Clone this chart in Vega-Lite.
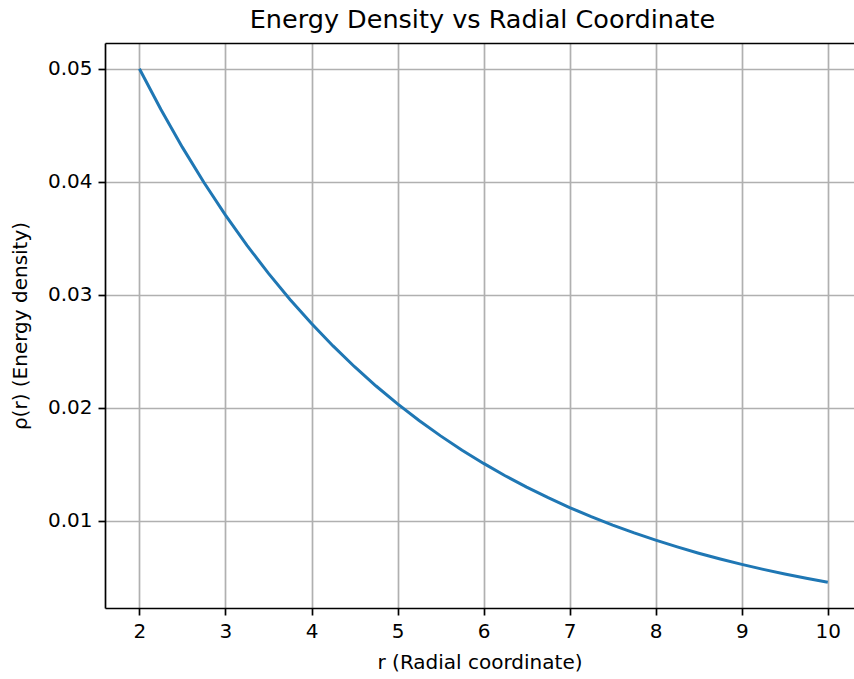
{
  "$schema": "https://vega.github.io/schema/vega-lite/v6.json",
  "autosize": {"type": "none"},
  "padding": {"left": 105, "top": 43, "right": 0, "bottom": 71},
  "width": 749,
  "height": 565,
  "background": "white",
  "title": {"text": "Energy Density vs Radial Coordinate", "font": "DejaVu Sans", "fontSize": 25.5, "fontWeight": "normal", "color": "black", "anchor": "middle", "baseline": "alphabetic", "offset": 14, "dx": 3, "dy": 24},
  "config": {
    "view": {"stroke": null},
    "axis": {"labelFont": "DejaVu Sans", "titleFont": "DejaVu Sans", "labelFontSize": 20, "titleFontSize": 20, "titleFontWeight": "normal", "labelColor": "black", "titleColor": "black", "domainColor": "black", "domainWidth": 1.7, "tickColor": "black", "tickWidth": 1.7, "tickSize": 7, "labelPadding": 6, "gridColor": "#b0b0b0", "gridWidth": 1.7, "gridOpacity": 1}
  },
  "data": {"values": [
    {"r": 2.0, "rho": 0.05},
    {"r": 2.25, "rho": 0.046387},
    {"r": 2.5, "rho": 0.043035},
    {"r": 2.75, "rho": 0.039926},
    {"r": 3.0, "rho": 0.037041},
    {"r": 3.25, "rho": 0.034364},
    {"r": 3.5, "rho": 0.031881},
    {"r": 3.75, "rho": 0.029578},
    {"r": 4.0, "rho": 0.027441},
    {"r": 4.25, "rho": 0.025458},
    {"r": 4.5, "rho": 0.023618},
    {"r": 4.75, "rho": 0.021912},
    {"r": 5.0, "rho": 0.020328},
    {"r": 5.25, "rho": 0.01886},
    {"r": 5.5, "rho": 0.017497},
    {"r": 5.75, "rho": 0.016233},
    {"r": 6.0, "rho": 0.01506},
    {"r": 6.25, "rho": 0.013972},
    {"r": 6.5, "rho": 0.012962},
    {"r": 6.75, "rho": 0.012025},
    {"r": 7.0, "rho": 0.011157},
    {"r": 7.25, "rho": 0.01035},
    {"r": 7.5, "rho": 0.009603},
    {"r": 7.75, "rho": 0.008909},
    {"r": 8.0, "rho": 0.008265},
    {"r": 8.25, "rho": 0.007668},
    {"r": 8.5, "rho": 0.007114},
    {"r": 8.75, "rho": 0.0066},
    {"r": 9.0, "rho": 0.006123},
    {"r": 9.25, "rho": 0.00568},
    {"r": 9.5, "rho": 0.00527},
    {"r": 9.75, "rho": 0.004889},
    {"r": 10.0, "rho": 0.004536}
  ]},
  "layer": [
    {
      "mark": {"type": "line", "color": "#1f77b4", "strokeWidth": 3, "clip": true},
      "encoding": {
        "x": {"field": "r", "type": "quantitative", "scale": {"domain": [1.6, 10.3045], "nice": false, "zero": false},
              "axis": {"values": [2, 3, 4, 5, 6, 7, 8, 9, 10], "format": "d", "title": "r (Radial coordinate)", "titlePadding": 11}},
        "y": {"field": "rho", "type": "quantitative", "scale": {"domain": [0.0022627, 0.0522732], "nice": false, "zero": false},
              "axis": {"values": [0.01, 0.02, 0.03, 0.04, 0.05], "format": ".2f", "title": "ρ(r) (Energy density)", "titlePadding": 17}}
      }
    },
    {
      "mark": {"type": "line", "opacity": 0},
      "encoding": {
        "x": {"field": "r", "type": "quantitative",
              "axis": {"orient": "top", "labels": false, "ticks": false, "grid": false, "title": null}}
      }
    }
  ],
  "resolve": {"axis": {"x": "independent"}}
}
